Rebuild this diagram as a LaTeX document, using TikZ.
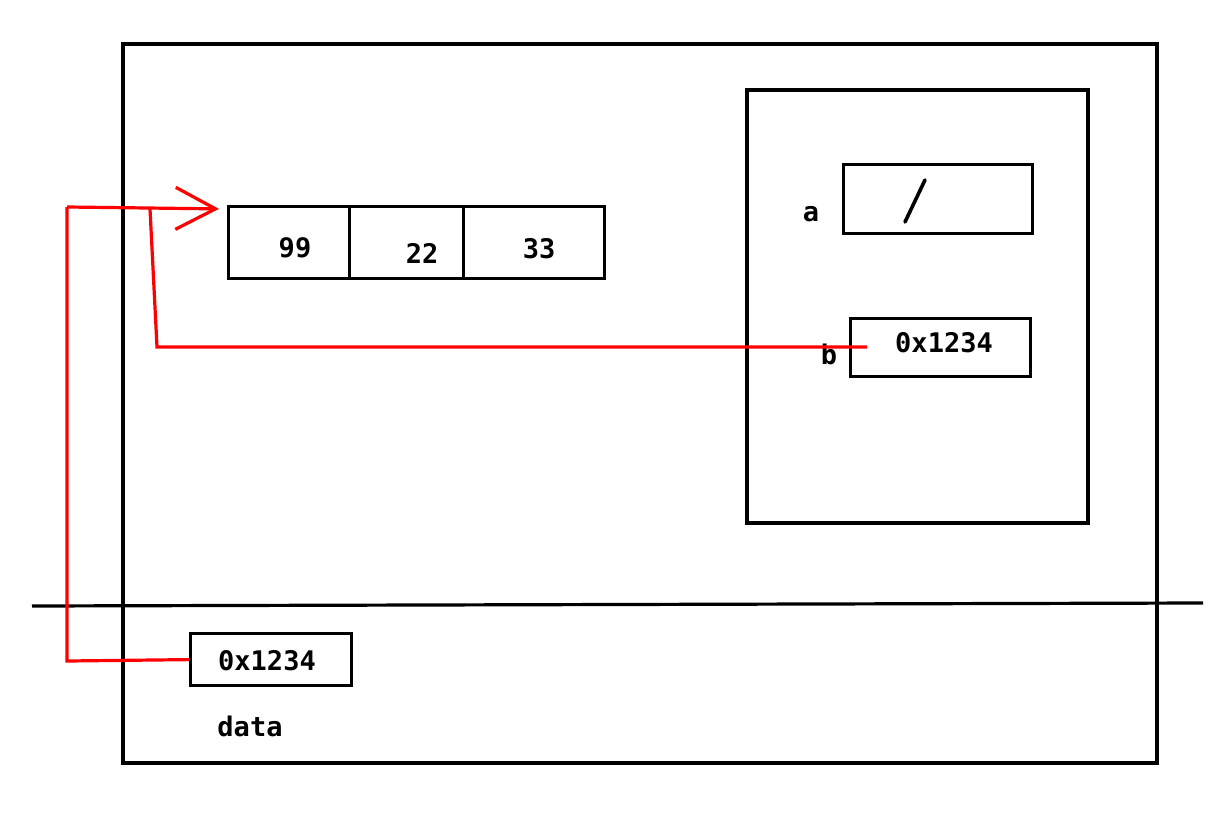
\documentclass[tikz,border=0pt]{standalone}
\usepackage{fontspec}
\setmonofont{DejaVu Sans Mono}
\usetikzlibrary{arrows.meta}
\begin{document}
\begin{tikzpicture}[x=0.5pt,y=-0.5pt,
  frame/.style={draw=black,line width=1.6pt},
  cell/.style={draw=black,line width=1.6pt,anchor=north west,inner sep=0pt},
  txt/.style={font=\ttfamily\bfseries\fontsize{13.5}{16}\selectfont,inner sep=0pt},
  ptr/.style={draw=red,line width=1.6pt},
  ptrarrow/.style={ptr,shorten >=4pt,-{Straight Barb[length=20pt,width=21pt,line width=1.6pt]}}]
\useasboundingbox[fill=white] (0,0) rectangle (1231,830);
% outer frame and divider
\draw[frame] (123,44) rectangle (1157,763);
\draw[frame] (32,606) -- (1203,603);
% inner frame
\draw[frame] (747,90) rectangle (1088,523);
% array cells
\node[cell,minimum width=60.5pt,minimum height=36pt] (c1) at (227,205) {};
\node[cell,minimum width=57pt,minimum height=36pt] (c2) at (348,205) {};
\node[cell,minimum width=70.5pt,minimum height=36pt] (c3) at (462,205) {};
\node[txt] (t99) at (295,248) {99};
\node[txt] (t22) at (422,253) {22};
\node[txt] (t33) at (539,249) {33};
% variable a
\node[cell,minimum width=94.5pt,minimum height=34.5pt] (boxa) at (842,163) {};
\node[txt] (la) at (811,214) {a};
\draw[line width=1.8pt,line cap=round] (905,222) -- (925,180);
% variable b
\node[cell,minimum width=90pt,minimum height=29pt] (boxb) at (849,317) {};
\node[txt] (vb) at (944,343) {0x1234};
\node[txt] (lb) at (829,354) {b};
% data
\node[cell,minimum width=80.5pt,minimum height=26pt] (boxd) at (189,632) {};
\node[txt] (vd) at (267,661) {0x1234};
\node[txt] (ld) at (250,726) {data};
% pointers
\coordinate (bsrc) at (867,347);
\coordinate (join) at (150,209);
\coordinate (arrtail) at (67,207);
\draw[ptr] (bsrc) -- (157,347) -- (join);
\draw[ptr] (boxd.west) -- (67,661) -- (arrtail);
\draw[ptrarrow] (arrtail) -- (c1.west |- 0,209);
\end{tikzpicture}
\end{document}
